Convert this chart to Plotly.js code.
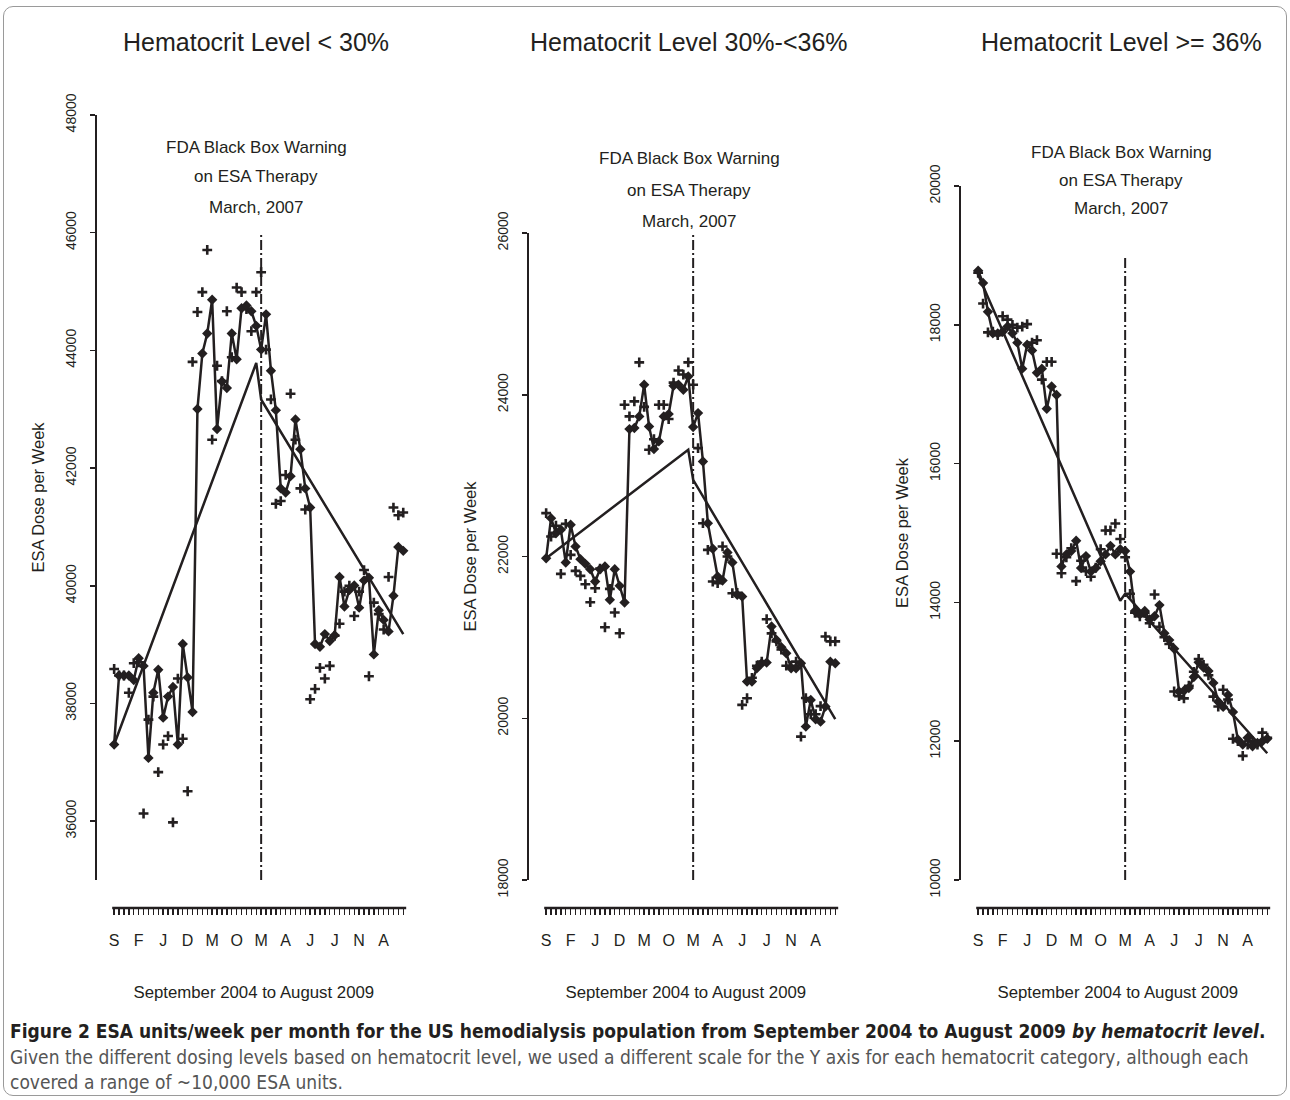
<!DOCTYPE html>
<html>
<head>
<meta charset="utf-8">
<script src="https://cdn.plot.ly/plotly-3.0.1.min.js"></script>
<style>
  html, body { margin: 0; padding: 0; background: #ffffff; }
  #wrap { position: relative; width: 1290px; height: 1100px; }
  #chart { position: absolute; left: 0; top: 0; width: 1290px; height: 1100px; }
  #frame { position: absolute; left: 3px; top: 6px; width: 1282px; height: 1088px;
           border: 1px solid #9a9a9a; border-radius: 10px; pointer-events: none; }
</style>
</head>
<body>
<div id="wrap"><div id="chart"></div><div id="frame"></div></div>
<script>
// ---------- DATA ----------
const panelTitles = ['Hematocrit Level < 30%', 'Hematocrit Level 30%-<36%', 'Hematocrit Level >= 36%'];
const monthLetters = ['S','F','J','D','M','O','M','A','J','J','N','A'];   // every 5th month, Sep 2004 .. Apr 2009
const nMonths = 60;                 // September 2004 to August 2009
const warningMonth = 30;            // March 2007
const warningText = ['FDA Black Box Warning', 'on ESA Therapy', 'March, 2007'];
const xTitle = 'September 2004 to August 2009';
const yTitle = 'ESA Dose per Week';

// Hematocrit < 30%
const p1Diamond = [37303, 38475, 38475, 38475, 38397, 38768, 38638, 37075, 38182, 38573,
  37759, 38117, 38280, 37303, 39010, 38443, 37856, 43003, 43948, 44287,
  44860, 42664, 43472, 43362, 44287, 43850, 44717, 44762, 44665, 44417,
  44013, 44612, 43655, 42984, 41655, 41583, 41863, 42827, 42319, 41655,
  41329, 39010, 38964, 39179, 39062, 39159, 40150, 39648, 39928, 40006,
  39628, 40091, 40137, 38834, 39583, 39420, 39225, 39830, 40658, 40593];
const p1Plus = [38586, 38475, 38475, 38182, 38684, 38700, 36130, 37726, 38117, 36834,
  37303, 37446, 35980, 38423, 37400, 36508, 43805, 44652, 44990, 45707,
  42482, 43739, 43479, 44665, 43883, 45068, 44990, 44700, 44326, 44990,
  45329, 44013, 43166, 41394, 41440, 41883, 43264, 42482, 41655, 41296,
  38072, 38247, 38606, 38423, 38638, 39150, 39355, 39900, 40000, 39485,
  39900, 40267, 38462, 39713, 39518, 39257, 40150, 41329, 41198, 41244];
const p1TrendMonths = [0, 29, 30, 59];
const p1Trend = [37303, 43785, 43166, 39179];

// Hematocrit 30% - <36%
const p2Diamond = [21979, 22474, 22288, 22330, 21926, 22392, 22124, 21967, 21909, 21843,
  21691, 21843, 21876, 21464, 21843, 21637, 21431, 23575, 23588, 23732,
  24124, 23608, 23328, 23423, 23732, 23761, 24111, 24124, 24062, 24227,
  23600, 23773, 23175, 22412, 22095, 21752, 21703, 22050, 21926, 21526,
  21505, 20453, 20453, 20618, 20680, 20688, 21134, 20969, 20878, 20804,
  20618, 20618, 20680, 19897, 20227, 19987, 19958, 20144, 20700, 20680];
const p2Plus = [22536, 22247, 22380, 21785, 22404, 22020, 21822, 21760, 21657, 21435,
  21608, 21850, 21125, 21600, 21307, 21051, 23876, 23732, 23918, 24400,
  23850, 23320, 23450, 23876, 23876, 23700, 24150, 24300, 24250, 24400,
  24124, 23340, 22412, 22082, 21691, 21670, 22124, 22000, 21546, 21550,
  20165, 20247, 20500, 20650, 20700, 21225, 21050, 20950, 20850, 20650,
  20650, 20700, 19773, 20250, 20050, 20050, 20150, 21010, 20950, 20950];
const p2TrendMonths = [0, 29, 30, 59];
const p2Trend = [21979, 23320, 22948, 19990];

// Hematocrit >= 36%
const p3Diamond = [18780, 18602, 18188, 17877, 17877, 17900, 17975, 17877, 17743, 17368,
  17714, 17630, 17309, 17368, 16790, 17111, 16988, 14519, 14692, 14741,
  14889, 14494, 14667, 14444, 14494, 14593, 14692, 14815, 14692, 14766,
  14741, 14444, 13877, 13827, 13877, 13753, 13800, 13961, 13556, 13457,
  13333, 12716, 12726, 12766, 12924, 13136, 13062, 13012, 12840, 12568,
  12494, 12667, 12420, 12025, 11951, 12050, 11926, 11975, 12000, 12035];
const p3Plus = [18750, 18306, 17891, 17900, 17850, 18123, 18074, 18000, 17960, 17975,
  18010, 17743, 17778, 17210, 17467, 17467, 14701, 14420, 14650, 14780,
  14306, 14600, 14450, 14370, 14500, 14766, 15037, 15037, 15136, 14914,
  14650, 14124, 13850, 13800, 13850, 13700, 14114, 13650, 13500, 13400,
  12716, 12650, 12617, 12800, 13000, 13185, 13100, 12950, 12642, 12500,
  12741, 12600, 12035, 12000, 11788, 11950, 12000, 11950, 12124, 12050];
const p3TrendMonths = [0, 29, 30, 59];
const p3Trend = [18720, 14025, 14124, 11827];

const yRanges = [[35000, 48000], [18000, 26000], [10000, 20000]];
const warningLineTop = [46000, 26000, 19000];

// ---------- LAYOUT HELPERS ----------
const W = 1290, H = 1100;
const px = v => v / W;
const py = v => (H - v) / H;
const INK = '#231f20';
const FONT = 'Liberation Sans, Arial, sans-serif';

const months = Array.from({length: nMonths}, (_, i) => i);
const tickText = months.map(i => (i % 5 === 0 ? monthLetters[i / 5] : ''));

const panels = [
  {diamond: p1Diamond, plus: p1Plus, tm: p1TrendMonths, trend: p1Trend, left: 97,  top: 115, cx: 256, ann: [147, 177, 207]},
  {diamond: p2Diamond, plus: p2Plus, tm: p2TrendMonths, trend: p2Trend, left: 529, top: 233, cx: 689, ann: [158, 190, 222]},
  {diamond: p3Diamond, plus: p3Plus, tm: p3TrendMonths, trend: p3Trend, left: 961, top: 186, cx: 1121, ann: [153, 180, 208]}
];
const plotBottom = 880;
const stripY = 908;
const xRange = [-3.5, 60.5];
const pxPerMonth = 4.9;
const plotWidth = (xRange[1] - xRange[0]) * pxPerMonth;

const traces = [];
const layout = {
  width: W, height: H,
  margin: {l: 0, r: 0, t: 0, b: 0},
  paper_bgcolor: '#ffffff', plot_bgcolor: 'rgba(0,0,0,0)',
  showlegend: false,
  font: {family: FONT, color: INK},
  shapes: [], annotations: []
};

panels.forEach((p, k) => {
  const xa = k === 0 ? 'x' : 'x' + (k + 1);
  const ya = k === 0 ? 'y' : 'y' + (k + 1);
  const xKey = k === 0 ? 'xaxis' : 'xaxis' + (k + 1);
  const yKey = k === 0 ? 'yaxis' : 'yaxis' + (k + 1);

  traces.push({
    x: p.tm, y: p.trend, xaxis: xa, yaxis: ya, type: 'scatter', mode: 'lines',
    line: {color: INK, width: 2.5}, hoverinfo: 'skip'
  });
  traces.push({
    x: months, y: p.plus, xaxis: xa, yaxis: ya, type: 'scatter', mode: 'markers',
    marker: {symbol: 'cross-thin', size: 7, line: {color: INK, width: 2.6}, color: INK}
  });
  traces.push({
    x: months, y: p.diamond, xaxis: xa, yaxis: ya, type: 'scatter', mode: 'lines+markers',
    line: {color: INK, width: 2.5},
    marker: {symbol: 'diamond', size: 8, color: INK}
  });

  layout[xKey] = {
    domain: [px(p.left), px(p.left + plotWidth)],
    range: xRange, anchor: 'free', position: py(stripY),
    showline: false, showgrid: false, zeroline: false,
    tickmode: 'array', tickvals: months, ticktext: tickText,
    ticks: 'outside', ticklen: 6, tickwidth: 1.4, tickcolor: INK,
    ticklabelstandoff: 12,
    tickfont: {size: 16, family: FONT, color: INK},
    title: {text: xTitle, font: {size: 16.8, family: FONT, color: INK}, standoff: 38}
  };
  layout[yKey] = {
    domain: [py(plotBottom), py(p.top)],
    range: yRanges[k], anchor: xa,
    showline: true, linewidth: 2, linecolor: INK, mirror: false,
    showgrid: false, zeroline: false,
    tickmode: 'linear', tick0: 0, dtick: 2000, tickformat: 'd',
    ticks: 'outside', ticklen: 5, tickwidth: 1.5, tickcolor: INK,
    tickangle: -90, ticklabelstandoff: 8,
    tickfont: {size: 14, family: FONT, color: INK},
    title: {text: yTitle, font: {size: 16.5, family: FONT, color: INK}, standoff: 15}
  };

  // strip line carrying the monthly ticks
  layout.shapes.push({
    type: 'line', xref: xa, yref: 'paper',
    x0: -0.4, x1: nMonths - 0.4, y0: py(stripY), y1: py(stripY),
    line: {color: INK, width: 2.5}
  });
  // March 2007 warning line
  layout.shapes.push({
    type: 'line', xref: xa, yref: ya,
    x0: warningMonth, x1: warningMonth, y0: yRanges[k][0], y1: warningLineTop[k],
    line: {color: INK, width: 2, dash: '10px,3px,2px,3px'}
  });

  // panel title
  layout.annotations.push({
    xref: 'paper', yref: 'paper', x: px(p.cx), y: py(42), xanchor: 'center', yanchor: 'middle',
    text: panelTitles[k], showarrow: false, font: {size: 25, family: FONT, color: INK}
  });
  warningText.forEach((t, j) => {
    layout.annotations.push({
      xref: 'paper', yref: 'paper', x: px(p.cx), y: py(p.ann[j]), xanchor: 'center', yanchor: 'middle',
      text: t, showarrow: false, font: {size: 17, family: FONT, color: INK}
    });
  });
});

// caption
const CAP = 'DejaVu Sans Condensed, Liberation Sans Narrow, sans-serif';
layout.annotations.push({
  xref: 'paper', yref: 'paper', x: px(8), y: py(1031), xanchor: 'left', yanchor: 'middle',
  showarrow: false, align: 'left',
  text: '<b>Figure 2 ESA units/week per month for the US hemodialysis population from September 2004 to August 2009 <i>by hematocrit level</i>.</b>',
  font: {size: 19, family: CAP, color: '#231f20'}
});
layout.annotations.push({
  xref: 'paper', yref: 'paper', x: px(8), y: py(1057), xanchor: 'left', yanchor: 'middle',
  showarrow: false, align: 'left',
  text: 'Given the different dosing levels based on hematocrit level, we used a different scale for the Y axis for each hematocrit category, although each',
  font: {size: 19, family: CAP, color: '#555555'}
});
layout.annotations.push({
  xref: 'paper', yref: 'paper', x: px(8), y: py(1082), xanchor: 'left', yanchor: 'middle',
  showarrow: false, align: 'left',
  text: 'covered a range of ~10,000 ESA units.',
  font: {size: 19, family: CAP, color: '#555555'}
});

Plotly.newPlot('chart', traces, layout, {displayModeBar: false, staticPlot: true});
</script>
</body>
</html>
